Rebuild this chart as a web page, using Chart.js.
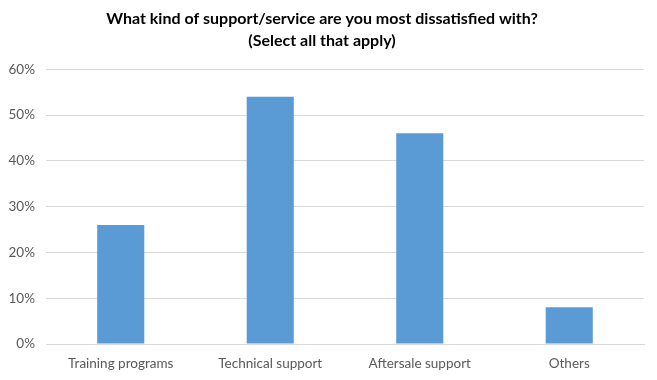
<!DOCTYPE html>
<html>
<head>
<meta charset="utf-8">
<script src="https://cdn.jsdelivr.net/npm/chart.js@4/dist/chart.umd.min.js"></script>
<style>
  html, body { margin: 0; padding: 0; background: #ffffff; }
  #wrap { width: 657px; height: 380px; position: relative; }
</style>
</head>
<body>
<div id="wrap"><canvas id="c" width="657" height="380"></canvas></div>
<script>
const categories = ["Training programs", "Technical support", "Aftersale support", "Others"];
const values = [26, 54, 46, 8];
const yTicks = [0, 10, 20, 30, 40, 50, 60];
const titleLines = ["What kind of support/service are you most dissatisfied with?", "(Select all that apply)"];

new Chart(document.getElementById('c'), {
  type: 'bar',
  data: {
    labels: categories,
    datasets: [{
      data: values,
      backgroundColor: '#5B9BD5',
      borderWidth: 0,
      categoryPercentage: 1.0,
      barPercentage: 0.315
    }]
  },
  options: {
    responsive: false,
    animation: false,
    devicePixelRatio: 1,
    layout: { padding: { top: 0, left: 0, right: 13, bottom: 0 } },
    plugins: {
      legend: { display: false },
      tooltip: { enabled: false },
      title: {
        display: true,
        text: titleLines,
        color: '#000000',
        font: { family: 'Lato', size: 16, weight: 'bold', lineHeight: 1.35 },
        padding: { top: 8, bottom: 18 }
      }
    },
    scales: {
      x: {
        grid: { display: false, drawTicks: false },
        border: { display: true, color: '#D9D9D9', width: 1 },
        ticks: { color: '#595959', font: { family: 'Lato', size: 13.5 }, padding: 12, maxRotation: 0 },
        afterFit: (s) => { s.height = 36; }
      },
      y: {
        min: 0, max: 60,
        afterBuildTicks: (s) => { s.ticks = yTicks.map(v => ({ value: v })); },
        grid: { color: '#D9D9D9', drawTicks: false, lineWidth: 1 },
        border: { display: false },
        ticks: {
          color: '#595959',
          font: { family: 'Lato', size: 13.5 },
          padding: 11,
          callback: (v) => v + '%'
        },
        afterFit: (s) => { s.width = 46; }
      }
    }
  }
});
</script>
</body>
</html>
